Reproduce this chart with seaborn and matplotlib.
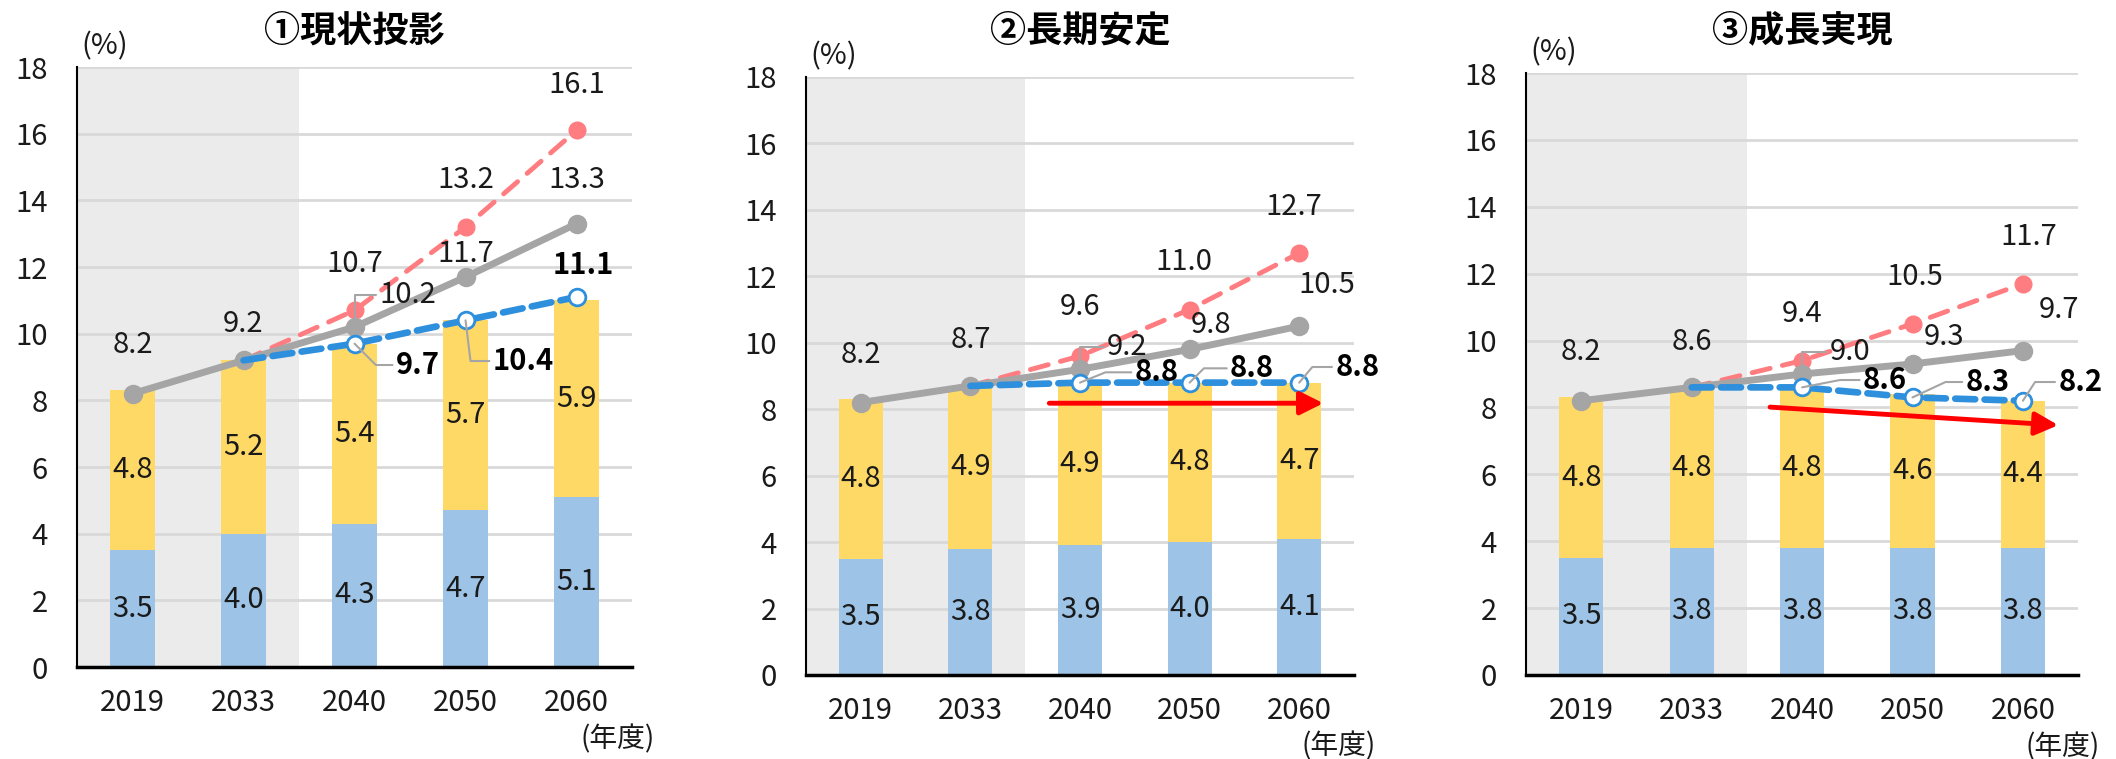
import numpy as np
import pandas as pd
import matplotlib.pyplot as plt
import seaborn as sns

# Data ----------------------------------------------------------------
years = ["2019", "2033", "2040", "2050", "2060"]
titles = ["①現状投影", "②長期安定", "③成長実現"]

# panel 1
base_1 = [3.5, 4.0, 4.3, 4.7, 5.1]
upper_1 = [4.8, 5.2, 5.4, 5.7, 5.9]
gray_1 = [8.2, 9.2, 10.2, 11.7, 13.3]
red_1 = [10.7, 13.2, 16.1]     # 2040-2060, starts from the 2033 gray point
blue_1 = [9.7, 10.4, 11.1]

# panel 2
base_2 = [3.5, 3.8, 3.9, 4.0, 4.1]
upper_2 = [4.8, 4.9, 4.9, 4.8, 4.7]
gray_2 = [8.2, 8.7, 9.2, 9.8, 10.5]
red_2 = [9.6, 11.0, 12.7]
blue_2 = [8.8, 8.8, 8.8]

# panel 3
base_3 = [3.5, 3.8, 3.8, 3.8, 3.8]
upper_3 = [4.8, 4.8, 4.8, 4.6, 4.4]
gray_3 = [8.2, 8.6, 9.0, 9.3, 9.7]
red_3 = [9.4, 10.5, 11.7]
blue_3 = [8.6, 8.3, 8.2]

# Label layout (offsets from the point, data units) + leader angles ------
gray_off = [
    [(0, 1.45), (0, 1.1), (0.48, 0.95), (0, 0.7), (0, 1.3)],
    [(0, 1.43), (0, 1.38), (0.43, 0.67), (0.2, 0.73), (0.25, 1.23)],
    [(0, 1.46), (0, 1.36), (0.43, 0.66), (0.29, 0.8), (0.33, 1.2)],
]
gray_lead = [
    [None, None, 90, None, None],
    [None, None, 90, None, None],
    [None, None, 90, None, None],
]
red_off = [
    [(0, 1.4), (0, 1.4), (0, 1.36)],
    [(0, 1.47), (-0.05, 1.43), (-0.05, 1.4)],
    [(0, 1.4), (0.02, 1.4), (0.05, 1.4)],
]
blue_off = [
    [(0.57, -0.64), (0.52, -1.22), (0.06, 0.96)],
    [(0.7, 0.31), (0.57, 0.43), (0.53, 0.47)],
    [(0.75, 0.22), (0.68, 0.46), (0.52, 0.56)],
]
blue_lead = [
    [-45, -83, None],
    [22, 45, 50],
    [11, 25, 57],
]
# red trend arrows (start, end) in data coords
arrows = [None, ((1.72, 8.18), (4.22, 8.18)), ((1.71, 8.01), (4.32, 7.47))]

# Visual style ---------------------------------------------------------
c_blue_bar = "#9DC3E6"
c_yellow = "#FFD966"
c_gray = "#A5A5A5"
c_red = "#FF7C80"
c_blue = "#2E8FDD"
c_shade = "#EBEBEB"
c_grid = "#D9D9D9"
c_text = "#1a1a1a"
fs = 21
cjk = ["Noto Sans CJK JP", "DejaVu Sans"]

sns.set_style("white")
plt.rcParams["font.family"] = cjk

fig = plt.figure(figsize=(21.16, 7.59), dpi=100)
ax_pos = [[0.0364, 0.1212, 0.2623, 0.7905],
          [0.3809, 0.1107, 0.2590, 0.7879],
          [0.7212, 0.1107, 0.2609, 0.7931]]

panels = [
    (base_1, upper_1, gray_1, red_1, blue_1),
    (base_2, upper_2, gray_2, red_2, blue_2),
    (base_3, upper_3, gray_3, red_3, blue_3),
]


def put_labels(ax, xs, ys, offs, leads, bold=False):
    kw = dict(ha="center", va="center", color=c_text, zorder=7, fontsize=fs)
    if bold:
        kw.update(fontweight="bold", color="black")
    for x, y, (dx, dy), lead in zip(xs, ys, offs, leads):
        if lead is None:
            ax.text(x + dx, y + dy, f"{y:.1f}", **kw)
        else:
            ax.annotate(f"{y:.1f}", xy=(x, y), xytext=(x + dx, y + dy), **kw,
                        arrowprops=dict(arrowstyle="-", color=c_gray, lw=1.5,
                                        shrinkA=0, shrinkB=0,
                                        connectionstyle=f"angle,angleA=0,angleB={lead},rad=0"))


for i, (base, upper, gray, red, blue) in enumerate(panels):
    ax = fig.add_axes(ax_pos[i])
    df = pd.DataFrame({"year": years, "base": base,
                       "total": np.add(base, upper)})

    ax.axvspan(-0.5, 1.5, color=c_shade, lw=0, zorder=0)
    sns.barplot(data=df, x="year", y="total", color=c_yellow, saturation=1,
                width=0.4, linewidth=0, ax=ax)
    sns.barplot(data=df, x="year", y="base", color=c_blue_bar, saturation=1,
                width=0.4, linewidth=0, ax=ax)

    x = np.arange(len(years))
    # bar segment labels
    for xi, b, u in zip(x, base, upper):
        ax.text(xi, b / 2, f"{b:.1f}", ha="center", va="center", fontsize=fs, color=c_text, zorder=4)
        ax.text(xi, b + u / 2, f"{u:.1f}", ha="center", va="center", fontsize=fs, color=c_text, zorder=4)

    # lines
    xf = x[1:]
    ax.plot(xf, [gray[1]] + red, color=c_red, lw=3.5, ls=(0, (3.8, 2.6)),
            dash_capstyle="round", marker="o", ms=12, markevery=[1, 2, 3], zorder=3)
    ax.plot(x, gray, color=c_gray, lw=5, marker="o", ms=13, zorder=4)
    ax.plot(xf, [gray[1]] + blue, color=c_blue, lw=4.8, ls=(0, (3, 1.4)),
            dash_capstyle="round", marker="o", ms=12, mfc="white", mec=c_blue,
            mew=2, markevery=[1, 2, 3], zorder=5)

    put_labels(ax, x, gray, gray_off[i], gray_lead[i])
    put_labels(ax, x[2:], red, red_off[i], [None] * 3)
    put_labels(ax, x[2:], blue, blue_off[i], blue_lead[i], bold=True)

    if arrows[i] is not None:
        (x0, y0), (x1, y1) = arrows[i]
        ax.annotate("", xy=(x1, y1), xytext=(x0, y0), zorder=6,
                    arrowprops=dict(arrowstyle="-|>,head_length=0.7,head_width=0.35",
                                    color="red", lw=3.5, mutation_scale=20,
                                    shrinkA=0, shrinkB=0))

    # axes cosmetics
    ax.set_xlim(-0.5, 4.5)
    ax.set_ylim(0, 18)
    ax.set_yticks(range(0, 19, 2))
    ax.set_axisbelow(True)
    ax.yaxis.grid(True, color=c_grid, lw=2)
    ax.xaxis.grid(False)
    ax.set_xlabel("")
    ax.set_ylabel("")
    sns.despine(ax=ax)
    ax.spines["left"].set_color("black")
    ax.spines["left"].set_linewidth(1.5)
    ax.spines["bottom"].set_color("black")
    ax.spines["bottom"].set_linewidth(2.5)
    ax.tick_params(axis="y", length=0, labelsize=fs, pad=21, colors=c_text)
    ax.tick_params(axis="x", length=0, labelsize=fs, pad=15, colors=c_text)

    ax.text(0.05, 1.035, "(%)", transform=ax.transAxes, ha="center", va="center",
            fontsize=fs, color=c_text)
    ax.text(1.04, -0.12, "(年度)", transform=ax.transAxes, ha="right", va="center",
            fontsize=fs - 1, color=c_text)

    pos = ax_pos[i]
    fig.text(pos[0] + pos[2] / 2, 1 - 31 / 759, titles[i], ha="center", va="center",
             fontsize=26, fontweight="bold", color="black")

fig.savefig("out.png", dpi=100)
